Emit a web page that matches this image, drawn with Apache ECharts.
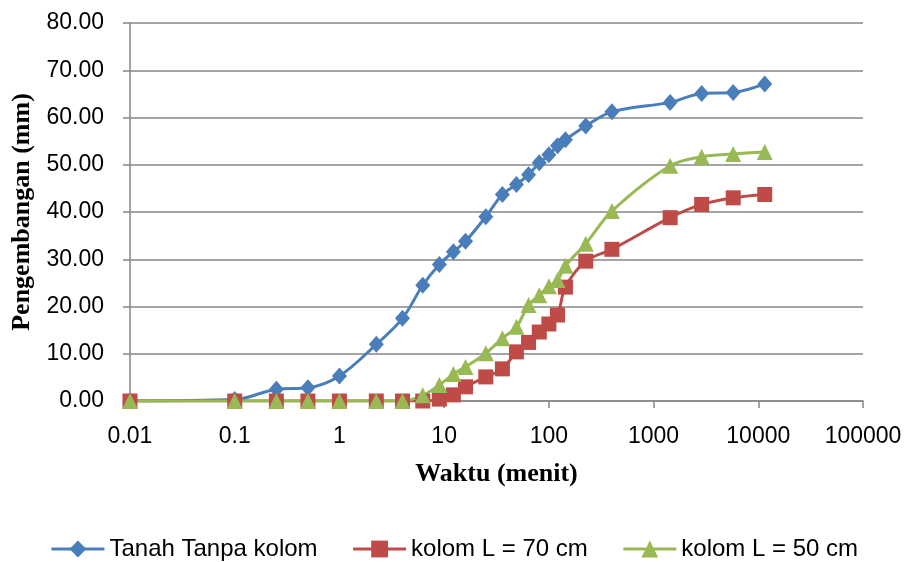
<!DOCTYPE html>
<html>
  <head>
    <meta charset="utf-8" />
    <title>Pengembangan vs Waktu</title>
    <script src="https://cdn.jsdelivr.net/npm/echarts@6/dist/echarts.min.js"></script>
  </head>
  <body style="margin: 0">
    <div id="main" style="width: 908px; height: 562px"></div>
    <script type="text/javascript">
      // waktu (menit) - same for all three series
      var times = [0.01, 0.1, 0.25, 0.5, 1, 2.25, 4, 6.25, 9, 12.25, 16, 25, 36, 49,
        64, 81, 100, 121, 144, 225, 400, 1440, 2880, 5760, 11520];

      var seriesNames = ["Tanah Tanpa kolom", "kolom L = 70 cm", "kolom L = 50 cm"];

      // pengembangan (mm)
      var tanahTanpaKolom = [0, 0.3, 2.5, 2.8, 5.3, 12.0, 17.5, 24.5, 28.9, 31.6, 33.8, 39.0,
        43.7, 45.8, 47.9, 50.4, 52.1, 54.0, 55.3, 58.2, 61.2, 63.2, 65.1, 65.3, 67.1];
      var kolom70 = [0, 0, 0, 0, 0, 0, 0, 0, 0.4, 1.3, 3.0, 5.1, 6.8, 10.4, 12.4, 14.6,
        16.3, 18.2, 24.1, 29.6, 32.1, 38.8, 41.6, 43.0, 43.7];
      var kolom50 = [0, 0, 0, 0, 0, 0, 0, 1.2, 3.4, 5.7, 7.2, 10.1, 13.3, 15.7, 20.3, 22.4,
        24.3, 25.6, 28.6, 33.3, 40.2, 49.8, 51.7, 52.3, 52.7];
    </script>

    <script type="text/javascript">
      var myChart = echarts.init(document.getElementById("main"));

      function pairs(values) {
        var out = [];
        for (var i = 0; i < times.length; i++) {
          out.push([times[i], values[i]]);
        }
        return out;
      }

      var labelFont = { fontFamily: "Liberation Sans, Arial, sans-serif", fontSize: 23, color: "#000" };
      var titleFont = { fontFamily: "Liberation Serif, Times New Roman, serif", fontSize: 26, fontWeight: "bold", color: "#000" };
      var gray = "#868686";

      var option = {
        animation: false,
        color: ["#4A7EBB", "#BE4B48", "#98B954"],
        grid: { left: 130, right: 45, top: 23, bottom: 161 },
        legend: {
          data: seriesNames,
          top: 532,
          left: "center",
          itemWidth: 53,
          itemHeight: 21,
          itemGap: 34,
          lineStyle: { width: 3 },
          textStyle: { fontFamily: labelFont.fontFamily, fontSize: 24, color: "#000" },
        },
        xAxis: {
          type: "log",
          logBase: 10,
          min: 0.01,
          max: 100000,
          name: "Waktu (menit)",
          nameLocation: "middle",
          nameGap: 60,
          nameTextStyle: titleFont,
          axisLine: { lineStyle: { color: gray, width: 1.5 } },
          axisTick: { length: 7, lineStyle: { color: gray, width: 1.5 } },
          minorTick: { show: false },
          splitLine: { show: false },
          axisLabel: Object.assign({
            margin: 24,
            formatter: function (v) { return String(Number(v.toPrecision(3))); },
          }, labelFont),
        },
        yAxis: {
          type: "value",
          min: 0,
          max: 80,
          interval: 10,
          name: "Pengembangan (mm)",
          nameLocation: "middle",
          nameGap: 89,
          nameTextStyle: titleFont,
          axisLine: { show: true, lineStyle: { color: gray, width: 1.5 } },
          axisTick: { show: true, length: 7, lineStyle: { color: gray, width: 1.5 } },
          splitLine: { lineStyle: { color: gray, width: 1.5 } },
          axisLabel: Object.assign({
            margin: 26,
            formatter: function (v) { return v.toFixed(2); },
          }, labelFont),
        },
        series: [
          {
            name: seriesNames[0],
            type: "line",
            smooth: 0.35,
            symbol: "diamond",
            symbolSize: [15, 17],
            lineStyle: { width: 3 },
            data: pairs(tanahTanpaKolom),
          },
          {
            name: seriesNames[1],
            type: "line",
            smooth: 0.35,
            symbol: "rect",
            symbolSize: 15,
            lineStyle: { width: 3 },
            data: pairs(kolom70),
          },
          {
            name: seriesNames[2],
            type: "line",
            smooth: 0.35,
            symbol: "triangle",
            symbolSize: 16,
            lineStyle: { width: 3 },
            data: pairs(kolom50),
          },
        ],
      };

      myChart.setOption(option);
    </script>
  </body>
</html>
